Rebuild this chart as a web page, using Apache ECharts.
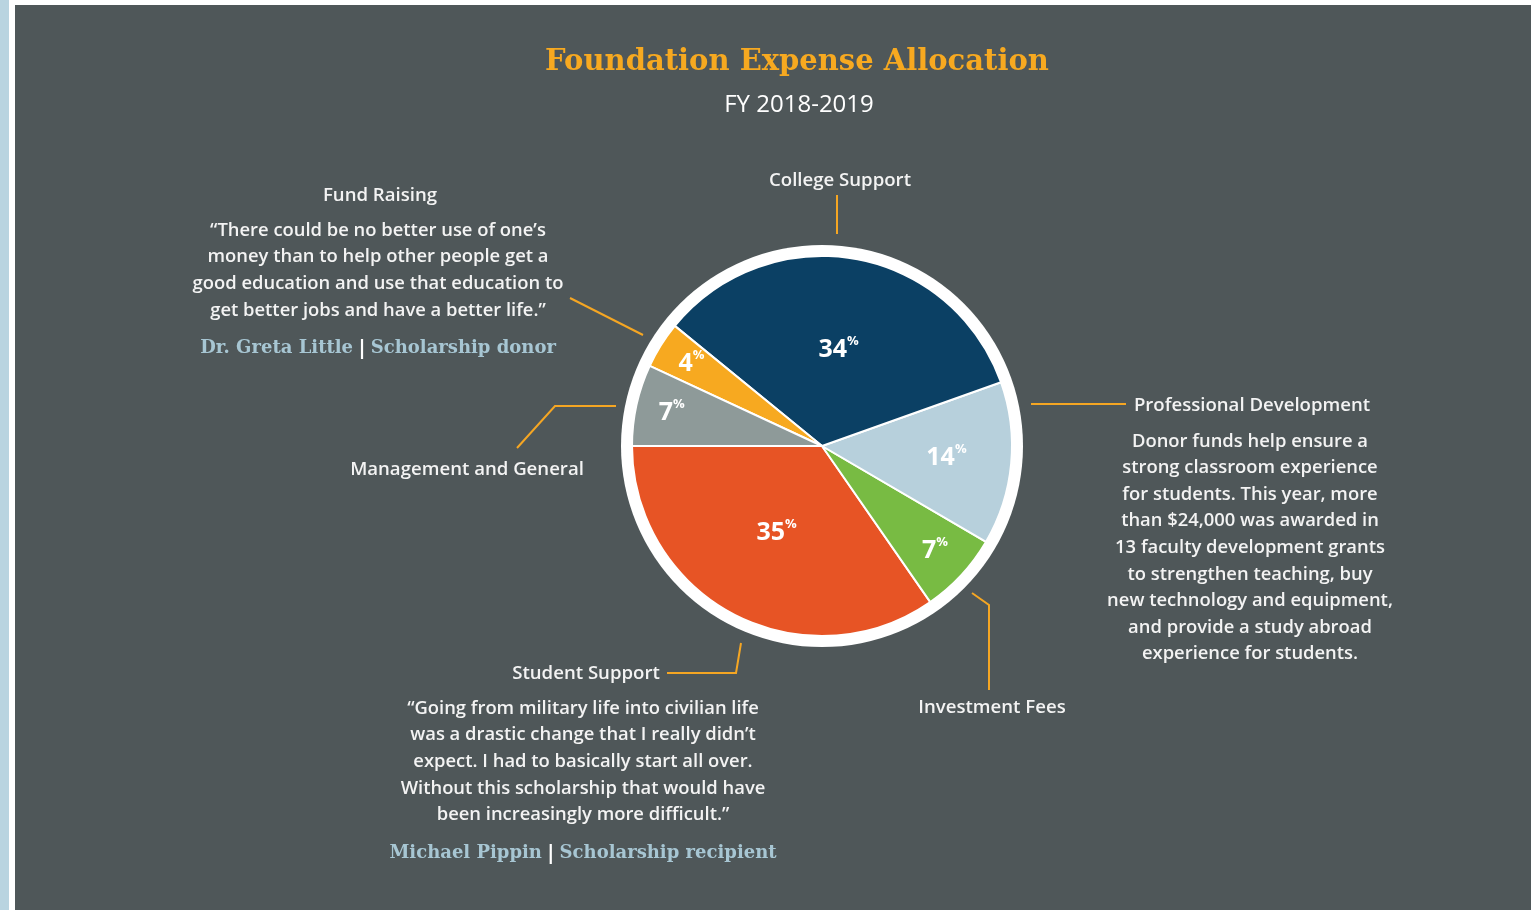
<!DOCTYPE html>
<html>
<head>
<meta charset="utf-8">
<script src="https://cdn.jsdelivr.net/npm/echarts@6/dist/echarts.min.js"></script>
<style>
  html, body { margin: 0; padding: 0; background: #ffffff; }
  #chart { width: 1531px; height: 910px; }
</style>
</head>
<body>
<div id="chart"></div>
<script>
// ---- Data ----
const categories = ['Student Support', 'Investment Fees', 'Professional Development', 'College Support', 'Fund Raising', 'Management and General'];
const values = [35, 7, 14, 34, 4, 7];
const sliceColors = ['#e75425', '#78bb43', '#b7d0dc', '#0b4064', '#f7a920', '#8e9a99'];

const titleText = 'Foundation Expense Allocation';
const subtitleText = 'FY 2018-2019';

const fundRaisingQuote = [
  '\u201CThere could be no better use of one\u2019s',
  'money than to help other people get a',
  'good education and use that education to',
  'get better jobs and have a better life.\u201D'
];
const fundRaisingAttr = ['Dr. Greta Little', 'Scholarship donor'];

const profDevText = [
  'Donor funds help ensure a',
  'strong classroom experience',
  'for students. This year, more',
  'than $24,000 was awarded in',
  '13 faculty development grants',
  'to strengthen teaching, buy',
  'new technology and equipment,',
  'and provide a study abroad',
  'experience for students.'
];

const studentQuote = [
  '\u201CGoing from military life into civilian life',
  'was a drastic change that I really didn\u2019t',
  'expect. I had to basically start all over.',
  'Without this scholarship that would have',
  'been increasingly more difficult.\u201D'
];
const studentAttr = ['Michael Pippin', 'Scholarship recipient'];

// ---- Styles ----
const ORANGE = '#f5a623';
const PANEL = '#4f5759';
const TXT = '#f3f3f3';
const ATTR = '#a7c6d3';
const SANS = '"Open Sans", "Lato", sans-serif';
const SLAB = '"DejaVu Serif", serif';
const LABEL_FONT = '600 18.6px ' + SANS;
const BODY_FONT = '600 18.4px ' + SANS;
const center = [822, 446];

const chart = echarts.init(document.getElementById('chart'), null, { renderer: 'canvas' });

function pctLabel(p) { return '{v|' + p.value + '}{p|%}'; }
const pctRich = {
  v: { fontFamily: SANS, fontWeight: 'bold', fontSize: 25, color: '#ffffff', lineHeight: 30 },
  p: { fontFamily: SANS, fontWeight: 'bold', fontSize: 13, color: '#ffffff', lineHeight: 16, verticalAlign: 'top' }
};

function pieData(showIdx, transparent) {
  return categories.map((c, i) => ({
    name: c,
    value: values[i],
    itemStyle: transparent ? { color: 'rgba(0,0,0,0)', borderWidth: 0 } : { color: sliceColors[i] },
    label: { show: showIdx.indexOf(i) >= 0 }
  }));
}

const basePie = {
  type: 'pie',
  center: center,
  startAngle: 180,
  clockwise: false,
  silent: true,
  animation: false,
  emphasis: { disabled: true },
  labelLine: { show: false }
};

const labelBase = {
  position: 'inside',
  formatter: pctLabel,
  rich: pctRich
};

function textEl(x, y, text, opts) {
  return {
    type: 'text',
    z: 10,
    style: Object.assign({
      x: x, y: y, text: text,
      fill: TXT,
      font: LABEL_FONT,
      textAlign: 'center',
      textVerticalAlign: 'middle'
    }, opts || {})
  };
}

function attrEl(x, y, parts) {
  return {
    type: 'text',
    z: 10,
    style: {
      x: x, y: y,
      text: '{a|' + parts[0] + '} {b||} {a|' + parts[1] + '}',
      textAlign: 'center',
      textVerticalAlign: 'middle',
      rich: {
        a: { fill: ATTR, color: ATTR, fontFamily: SLAB, fontWeight: 'bold', fontSize: 18 },
        b: { fill: '#ffffff', color: '#ffffff', fontFamily: SANS, fontWeight: 'bold', fontSize: 20 }
      }
    }
  };
}

function lineEl(points) {
  return {
    type: 'polyline',
    z: 10,
    shape: { points: points },
    style: { stroke: ORANGE, lineWidth: 2, fill: null }
  };
}

const option = {
  backgroundColor: '#ffffff',
  animation: false,
  title: [
    {
      text: titleText,
      left: 792, top: 57, textAlign: 'center', textVerticalAlign: 'middle',
      textStyle: { color: '#f7a920', fontFamily: SLAB, fontWeight: 'bold', fontSize: 29 }
    },
    {
      text: subtitleText,
      left: 794, top: 100, textAlign: 'center', textVerticalAlign: 'middle',
      textStyle: { color: '#ffffff', fontFamily: SANS, fontWeight: 'normal', fontSize: 24 }
    }
  ],
  graphic: [
    { type: 'rect', z: -10, shape: { x: 0, y: 0, width: 9, height: 910 }, style: { fill: '#b9d4e0' } },
    { type: 'rect', z: -10, shape: { x: 15, y: 5, width: 1516, height: 905 }, style: { fill: PANEL } },

    // College Support
    textEl(840, 181, categories[3]),
    lineEl([[837, 195], [837, 234]]),

    // Fund Raising
    textEl(380, 196, categories[4]),
    textEl(378, 217, fundRaisingQuote.join('\n'), { textVerticalAlign: 'top', lineHeight: 26.7, font: BODY_FONT }),
    attrEl(378, 348, fundRaisingAttr),
    lineEl([[570, 298], [643, 335]]),

    // Management and General
    textEl(467, 470, categories[5]),
    lineEl([[517, 448], [555, 406], [616, 406]]),

    // Professional Development
    textEl(1252, 406, categories[2]),
    textEl(1250, 428, profDevText.join('\n'), { textVerticalAlign: 'top', lineHeight: 26.6, font: BODY_FONT }),
    lineEl([[1031, 404], [1126, 404]]),

    // Investment Fees
    textEl(992, 708, categories[1]),
    lineEl([[972, 593], [989, 605], [989, 690]]),

    // Student Support
    textEl(586, 674, categories[0]),
    textEl(583, 695, studentQuote.join('\n'), { textVerticalAlign: 'top', lineHeight: 26.7, font: BODY_FONT }),
    attrEl(583, 853, studentAttr),
    lineEl([[667, 673], [736, 673], [741, 643]])
  ],
  series: [
    // white outer ring
    Object.assign({}, basePie, {
      radius: [0, 201], z: 1,
      label: { show: false },
      data: [{ name: 'ring', value: 1, itemStyle: { color: '#ffffff' } }]
    }),
    // main pie (large-slice labels)
    Object.assign({}, basePie, {
      radius: [0, 190], z: 2,
      itemStyle: { borderColor: '#ffffff', borderWidth: 2 },
      label: labelBase,
      data: pieData([0, 3], false)
    }),
    // label carrier for small slices
    Object.assign({}, basePie, {
      radius: [0, 302], z: 3,
      label: labelBase,
      data: pieData([1, 4, 5], true)
    }),
    // label carrier for professional development
    Object.assign({}, basePie, {
      radius: [0, 244], z: 3,
      label: labelBase,
      data: pieData([2], true)
    })
  ]
};

chart.setOption(option);
</script>
</body>
</html>
